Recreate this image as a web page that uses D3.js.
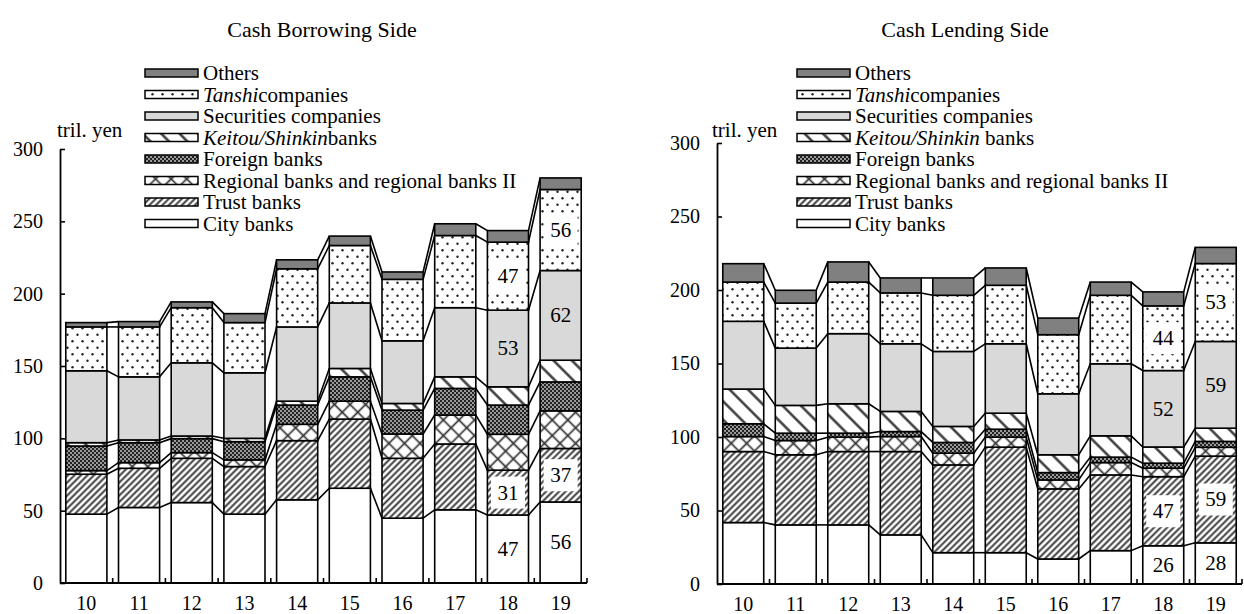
<!DOCTYPE html>
<html>
<head>
<meta charset="utf-8">
<script src="https://cdn.jsdelivr.net/npm/d3@7"></script>
<style>
  body { margin: 0; background: #fff; }
  svg, svg text { font-family: 'Liberation Serif', 'Times New Roman', 'DejaVu Serif', serif !important; }
</style>
</head>
<body>
<script>
// fiscal years shown on the x axis
const years = ["10", "11", "12", "13", "14", "15", "16", "17", "18", "19"];
const seriesNames = ["City banks", "Trust banks", "Regional banks and regional banks II",
  "Foreign banks", "Keitou/Shinkin banks", "Securities companies", "Tanshi companies", "Others"];
const yTicks = [0, 50, 100, 150, 200, 250, 300];

// Cash borrowing side (tril. yen)
const borrowCity       = [47.6, 52.2, 55.6, 47.6, 57.5, 65.5, 44.8, 50.6, 47, 56];
const borrowTrust      = [27.6, 27.1, 30.6, 32.9, 40.9, 47.8, 41.4, 45.5, 31, 37];
const borrowRegional   = [2.5, 3.9, 3.9, 4.6, 11.3, 12.4, 16.8, 20.0, 24.8, 26];
const borrowForeign    = [17.0, 13.8, 9.7, 12.6, 13.3, 16.8, 16.5, 18.4, 20.2, 20];
const borrowKeitou     = [2.3, 1.9, 1.8, 2.3, 2.7, 5.8, 4.6, 8.0, 12.6, 15];
const borrowSecurities = [49.7, 43.6, 50.6, 45.3, 51.3, 45.3, 43.3, 47.8, 53, 62];
const borrowTanshi     = [30.3, 34.5, 38.1, 34.7, 40.2, 39.7, 42.5, 49.9, 47, 56];
const borrowOthers     = [3.0, 3.7, 4.0, 6.2, 6.2, 6.5, 5.1, 8.1, 8, 8];

// Cash lending side (tril. yen)
const lendCity       = [41.8, 40.2, 40.2, 33.4, 21.3, 21.3, 17.0, 22.7, 26, 28];
const lendTrust      = [48.3, 47.7, 49.9, 56.7, 59.7, 71.8, 47.7, 51.5, 47, 59];
const lendRegional   = [10.2, 9.7, 9.8, 10.2, 8.0, 6.8, 6.1, 8.4, 5.8, 6];
const lendForeign    = [8.7, 5.0, 2.7, 3.4, 7.3, 5.4, 5.0, 3.7, 3.4, 4];
const lendKeitou     = [23.6, 18.9, 20.0, 13.7, 10.9, 10.9, 12.1, 14.5, 11, 9];
const lendSecurities = [46.1, 39.0, 47.7, 46.0, 51.0, 47.2, 41.5, 49.0, 52, 59];
const lendTanshi     = [26.7, 30.6, 35.1, 34.6, 38.2, 39.8, 40.2, 46.6, 44, 53];
const lendOthers     = [12.5, 8.7, 13.7, 10.2, 11.8, 11.8, 11.3, 9.0, 9.5, 11];

// which series get value labels in the last two years, and which of those sit on a white box
const labelledSeries = [0, 1, 5, 6];
const boxedSeries = [1, 6];
const labelledYears = ["18", "19"];

const fills = ["#fff", "url(#p-trust)", "url(#p-regional)", "url(#p-foreign)",
  "url(#p-keitou)", "#d9d9d9", "url(#p-tanshi)", "#808080"];

const FONT = "'Liberation Serif', 'Times New Roman', serif";

const svg = d3.select("body").append("svg")
  .attr("width", 1244)
  .attr("height", 614)
  .attr("font-family", FONT);

// ---- patterns ----
const defs = svg.append("defs");

function stripes(id, gap, angle, width) {
  const p = defs.append("pattern")
    .attr("id", id)
    .attr("patternUnits", "userSpaceOnUse")
    .attr("width", gap).attr("height", gap)
    .attr("patternTransform", `rotate(${angle})`);
  p.append("rect").attr("width", gap).attr("height", gap).attr("fill", "#fff");
  p.append("line").attr("x1", gap / 2).attr("y1", 0).attr("x2", gap / 2).attr("y2", gap)
    .attr("stroke", "#333").attr("stroke-width", width);
  return p;
}
stripes("p-trust", 4.6, 45, 1.9);
stripes("p-keitou", 13, -45, 2.4);

const cross = stripes("p-regional", 11, 45, 1.7);
cross.append("line").attr("x1", 0).attr("y1", 5.5).attr("x2", 11).attr("y2", 5.5)
  .attr("stroke", "#333").attr("stroke-width", 1.7);

const foreign = defs.append("pattern")
  .attr("id", "p-foreign").attr("patternUnits", "userSpaceOnUse")
  .attr("width", 4).attr("height", 4);
foreign.append("rect").attr("width", 4).attr("height", 4).attr("fill", "#9a9a9a");
foreign.append("rect").attr("width", 2).attr("height", 2).attr("fill", "#222");
foreign.append("rect").attr("x", 2).attr("y", 2).attr("width", 2).attr("height", 2).attr("fill", "#222");

const tanshi = defs.append("pattern")
  .attr("id", "p-tanshi").attr("patternUnits", "userSpaceOnUse")
  .attr("width", 10).attr("height", 13);
tanshi.append("rect").attr("width", 10).attr("height", 13).attr("fill", "#fff");
tanshi.append("circle").attr("cx", 2.5).attr("cy", 3.2).attr("r", 1.2).attr("fill", "#222");
tanshi.append("circle").attr("cx", 7.5).attr("cy", 9.7).attr("r", 1.2).attr("fill", "#222");

// ---- one chart ----
function drawChart(opt) {
  const g = svg.append("g");
  const table = years.map((yr, i) => {
    const row = { year: yr };
    opt.values.forEach((arr, k) => { row[k] = arr[i]; });
    return row;
  });
  const stack = d3.stack().keys(d3.range(seriesNames.length))(table);

  const x = d3.scaleBand().domain(years).range(opt.xRange)
    .paddingInner(0.22).paddingOuter(0.11);
  const y = d3.scaleLinear().domain([0, 300]).range(opt.yRange);
  const bw = x.bandwidth();
  const step = x.step();

  // connector lines between neighbouring bars
  stack.forEach(layer => {
    for (let i = 0; i < years.length - 1; i++) {
      g.append("line")
        .attr("x1", x(years[i]) + bw).attr("y1", y(layer[i][1]))
        .attr("x2", x(years[i + 1])).attr("y2", y(layer[i + 1][1]))
        .attr("stroke", "#000").attr("stroke-width", 1.6);
    }
  });

  // bars
  g.selectAll("g.layer")
    .data(stack)
    .join("g")
    .attr("class", "layer")
    .attr("fill", d => fills[d.key])
    .selectAll("rect")
    .data(d => d)
    .join("rect")
    .attr("x", d => x(d.data.year))
    .attr("y", d => y(d[1]))
    .attr("width", bw)
    .attr("height", d => y(d[0]) - y(d[1]))
    .attr("stroke", "#000")
    .attr("stroke-width", 1.6);

  // value labels
  labelledSeries.forEach(k => {
    stack[k].forEach(d => {
      if (!labelledYears.includes(d.data.year)) return;
      const cx = x(d.data.year) + bw / 2;
      const cy = y((d[0] + d[1]) / 2);
      if (boxedSeries.includes(k)) {
        g.append("rect")
          .attr("x", cx - 17).attr("y", cy - 16)
          .attr("width", 34).attr("height", 32)
          .attr("fill", "#fff");
      }
      g.append("text")
        .attr("x", cx).attr("y", cy + 7)
        .attr("text-anchor", "middle")
        .attr("font-size", 21)
        .text(d3.format(".0f")(d.data[k]));
    });
  });

  // y axis with inward ticks
  const yAxis = g.append("g")
    .attr("transform", `translate(${opt.xRange[0]},0)`)
    .call(d3.axisLeft(y).tickValues(yTicks).tickSizeInner(-5).tickSizeOuter(0).tickPadding(17));
  yAxis.attr("font-family", FONT).attr("font-size", 20);
  yAxis.select(".domain").attr("stroke", "#000").attr("stroke-width", 1.8);
  yAxis.selectAll(".tick line").attr("stroke", "#000").attr("stroke-width", 1.6);
  yAxis.selectAll(".tick text").attr("fill", "#000");

  // x axis: baseline, boundary ticks pointing up, year labels
  const y0 = y(0);
  g.append("line")
    .attr("x1", opt.xRange[0]).attr("x2", opt.xRange[1])
    .attr("y1", y0).attr("y2", y0)
    .attr("stroke", "#000").attr("stroke-width", 2);
  years.forEach((yr, i) => {
    const bx = x(yr) + bw + step * 0.11;
    g.append("line")
      .attr("x1", bx).attr("x2", bx)
      .attr("y1", y0).attr("y2", y0 - 5)
      .attr("stroke", "#000").attr("stroke-width", 1.6);
    g.append("text")
      .attr("x", x(yr) + bw / 2).attr("y", y0 + 27)
      .attr("text-anchor", "middle")
      .attr("font-size", 20)
      .text(yr);
  });

  g.append("text")
    .attr("x", opt.unitX).attr("y", 137)
    .attr("font-size", 21)
    .text("tril. yen");

  g.append("text")
    .attr("x", opt.titleX).attr("y", 37)
    .attr("text-anchor", "middle")
    .attr("font-size", 22)
    .text(opt.title);

  // legend, top entry = Others
  const order = d3.range(seriesNames.length).reverse();
  order.forEach((k, r) => {
    const cy = 73 + r * 21.5;
    g.append("rect")
      .attr("x", opt.legendX).attr("y", cy - 4)
      .attr("width", 53).attr("height", 8)
      .attr("fill", fills[k])
      .attr("stroke", "#000").attr("stroke-width", 1.5);
    const t = g.append("text")
      .attr("x", opt.legendX + 58).attr("y", cy + 7)
      .attr("font-size", 21);
    const name = seriesNames[k];
    if (name.startsWith("Tanshi")) {
      t.append("tspan").attr("font-style", "italic").text("Tanshi");
      t.append("tspan").text("companies");
    } else if (name.startsWith("Keitou")) {
      t.append("tspan").attr("font-style", "italic").text("Keitou/Shinkin");
      t.append("tspan").text(opt.tightLegend ? "banks" : " banks");
    } else {
      t.text(name);
    }
  });
}

drawChart({
  title: "Cash Borrowing Side",
  titleX: 322,
  values: [borrowCity, borrowTrust, borrowRegional, borrowForeign,
    borrowKeitou, borrowSecurities, borrowTanshi, borrowOthers],
  xRange: [60, 587],
  yRange: [583, 149],
  unitX: 57,
  legendX: 145,
  tightLegend: true
});

drawChart({
  title: "Cash Lending Side",
  titleX: 965,
  values: [lendCity, lendTrust, lendRegional, lendForeign,
    lendKeitou, lendSecurities, lendTanshi, lendOthers],
  xRange: [717, 1242],
  yRange: [584, 143],
  unitX: 712,
  legendX: 797,
  tightLegend: false
});
</script>
</body>
</html>
